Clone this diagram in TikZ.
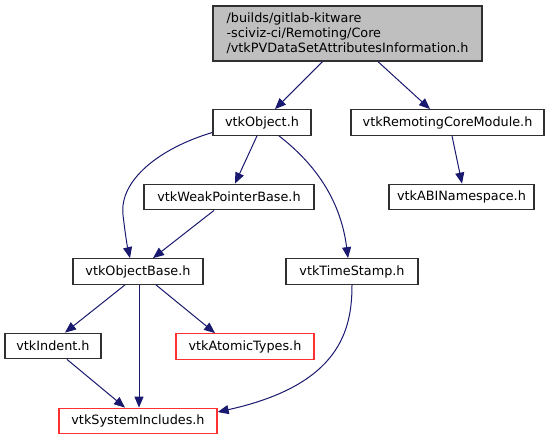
\documentclass[tikz,border=0pt]{standalone}
\usepackage{fontspec}
\setmainfont{DejaVu Sans}
\usetikzlibrary{arrows.meta}
\definecolor{edgeblue}{HTML}{191970}
\definecolor{maingray}{HTML}{BFBFBF}
\definecolor{boxgray}{HTML}{303030}
\definecolor{boxred}{HTML}{FF3030}
\begin{document}
\begin{tikzpicture}[x=1pt,y=-1pt,
  box/.style={draw=boxgray, line width=1.3pt, fill=white, minimum height=25.5pt, inner sep=0pt,
     font=\fontsize{12.8}{15}\selectfont, text=black},
  redbox/.style={box, draw=boxred},
  mainbox/.style={box, fill=maingray, align=left},
  edge/.style={draw=edgeblue, line width=1pt, -{Triangle[length=11pt,width=9pt]}}
]
\useasboundingbox (0,0) rectangle (553,440);
\fill[white] (0,0) rectangle (553,440);

\node[mainbox, minimum width=269pt, minimum height=55pt] (top) at (347.5,33.5)
  {/builds/gitlab-kitware\\-sciviz-ci/Remoting/Core\\/vtkPVDataSetAttributesInformation.h};
\node[box, minimum width=98pt] (obj) at (262,122.5) {vtkObject.h};
\node[box, minimum width=193pt] (rem) at (447.5,122.5) {vtkRemotingCoreModule.h};
\node[box, minimum width=170pt] (weak) at (229,197) {vtkWeakPointerBase.h};
\node[box, minimum width=145pt] (abi) at (461.5,197) {vtkABINamespace.h};
\node[box, minimum width=130pt] (ob) at (138,271.5) {vtkObjectBase.h};
\node[box, minimum width=132pt] (ts) at (352,271.5) {vtkTimeStamp.h};
\node[box, minimum width=96pt] (ind) at (53,346) {vtkIndent.h};
\node[redbox, minimum width=138pt] (at) at (245,346.5) {vtkAtomicTypes.h};
\node[redbox, minimum width=158pt] (sys) at (138,421) {vtkSystemIncludes.h};

\draw[edge] ([xshift=-25pt]top.south) -- ([xshift=13pt]obj.north);
\draw[edge] ([xshift=30.5pt]top.south) -- ([xshift=-17.5pt]rem.north);
\draw[edge] ([xshift=-5pt]obj.south) -- ([xshift=6pt]weak.north);
\draw[edge] ([yshift=-10pt]obj.west) .. controls (160,148) and (119,180) .. (123,215)
   .. controls (125,232) and (127,245) .. ([xshift=-8pt]ob.north);
\draw[edge] ([xshift=17pt]obj.south) .. controls (310,160) and (340,195) .. ([xshift=-4pt]ts.north);
\draw[edge] ([xshift=-15pt]weak.south) -- ([xshift=15pt]ob.north);
\draw[edge] ([xshift=-13pt]ob.south) -- ([xshift=12pt]ind.north);
\draw[edge] ([xshift=1pt]ob.south) -- ([xshift=1pt]sys.north);
\draw[edge] ([xshift=18pt]ob.south) -- ([xshift=-30pt]at.north);
\draw[edge] ([xshift=14pt]ind.south) -- ([xshift=-13pt]sys.north);
\draw[edge] (ts.south) .. controls (352,330) and (340,385) .. ([yshift=9pt]sys.east);
\draw[edge] ([xshift=4.5pt]rem.south) -- ([xshift=0.5pt]abi.north);
\end{tikzpicture}
\end{document}
